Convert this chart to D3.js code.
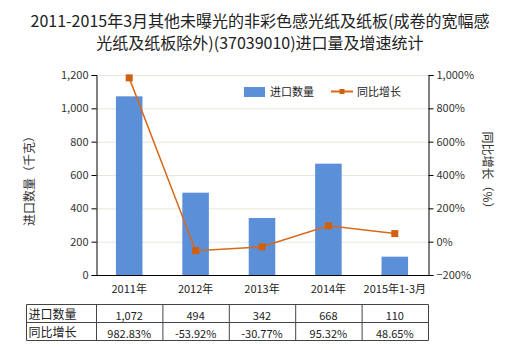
<!DOCTYPE html>
<html><head><meta charset="utf-8">
<script src="https://cdn.jsdelivr.net/npm/d3@7"></script>
<style>body{margin:0;background:#fff}svg{display:block;font-family:"Noto Sans CJK SC","Microsoft YaHei",sans-serif}</style>
</head><body><svg id="c" width="520" height="350"></svg>
<script>
const categories = ["2011年","2012年","2013年","2014年","2015年1-3月"];
const importQty = [1072, 494, 342, 668, 110];
const growthPct = [982.83, -53.92, -30.77, 95.32, 48.65];
const qtyLabels = ["1,072","494","342","668","110"];
const growthLabels = ["982.83%","-53.92%","-30.77%","95.32%","48.65%"];
const leftTicks = [0,200,400,600,800,1000,1200];
const rightTicks = [-200,0,200,400,600,800,1000];

const svg = d3.select("#c");
const L = 96, R = 428, T = 75, B = 275;
const x = d3.scaleBand().domain(categories).range([L,R]).paddingInner(0.6).paddingOuter(0.3);
const y = d3.scaleLinear().domain([0,1200]).range([B,T]);
const y2 = d3.scaleLinear().domain([-200,1000]).range([B,T]);
const cx = d => x(d) + x.bandwidth()/2;

// title
svg.append("text").attr("x",260).attr("y",27).attr("text-anchor","middle").attr("font-size",16).attr("fill","#222")
  .text("2011-2015年3月其他未曝光的非彩色感光纸及纸板(成卷的宽幅感");
svg.append("text").attr("x",260).attr("y",49).attr("text-anchor","middle").attr("font-size",16).attr("fill","#222")
  .text("光纸及纸板除外)(37039010)进口量及增速统计");

// gridlines
svg.append("g").selectAll("line").data(leftTicks.slice(1)).join("line")
  .attr("x1",L).attr("x2",R).attr("y1",d=>y(d)+0.5).attr("y2",d=>y(d)+0.5)
  .attr("stroke","#e6e6dc").attr("stroke-width",1);

// bars
svg.append("g").selectAll("rect").data(importQty).join("rect")
  .attr("x",(d,i)=>x(categories[i])).attr("width",x.bandwidth())
  .attr("y",d=>y(d)).attr("height",d=>B-y(d)).attr("fill","#5b8fd8");

// axes
const la = svg.append("g").attr("transform",`translate(${L+0.5},0)`)
  .call(d3.axisLeft(y).tickValues(leftTicks).tickSize(5).tickPadding(3).tickFormat(d3.format(",")));
const ra = svg.append("g").attr("transform",`translate(${R+0.5},0)`)
  .call(d3.axisRight(y2).tickValues(rightTicks).tickSize(5).tickPadding(3).tickFormat(d=>d3.format(",")(d)+"%"));
[la,ra].forEach(a=>{
  a.select(".domain").attr("stroke","#000");
  a.selectAll(".tick line").attr("stroke","#000");
  a.selectAll("text").attr("font-size",11).attr("fill","#333").attr("font-family","'Noto Sans CJK SC',sans-serif");
});
svg.append("line").attr("x1",L).attr("x2",R+1).attr("y1",B+0.5).attr("y2",B+0.5).attr("stroke","#000");

// category labels
svg.append("g").selectAll("text").data(categories).join("text")
  .attr("x",d=>cx(d)).attr("y",293).attr("text-anchor","middle").attr("font-size",11).attr("fill","#222").text(d=>d);

// line
const line = d3.line().x((d,i)=>cx(categories[i])).y(d=>y2(d));
svg.append("path").datum(growthPct).attr("d",line).attr("fill","none").attr("stroke","#d9691a").attr("stroke-width",1.5);
svg.append("g").selectAll("rect").data(growthPct).join("rect")
  .attr("x",(d,i)=>cx(categories[i])-3.5).attr("y",d=>y2(d)-3.5).attr("width",7).attr("height",7).attr("fill","#d25f0c");

// axis titles
svg.append("text").attr("transform","translate(34,178) rotate(-90)").attr("text-anchor","middle")
  .attr("font-size",12).attr("fill","#333").text("进口数量（千克）");
svg.append("text").attr("transform","translate(483,173) rotate(90)").attr("text-anchor","middle")
  .attr("font-size",12).attr("fill","#333").text("同比增长（%）");

// legend
svg.append("rect").attr("x",244).attr("y",87).attr("width",21).attr("height",10).attr("fill","#5b8fd8");
svg.append("text").attr("x",270).attr("y",96).attr("font-size",11).attr("fill","#222").text("进口数量");
svg.append("line").attr("x1",331).attr("x2",353).attr("y1",91.5).attr("y2",91.5).attr("stroke","#d9691a").attr("stroke-width",2);
svg.append("rect").attr("x",339.5).attr("y",89).attr("width",5).attr("height",5).attr("fill","#d25f0c");
svg.append("text").attr("x",357).attr("y",96).attr("font-size",11).attr("fill","#222").text("同比增长");

// table
const tT = 304.5, tM = 322.5, tB = 340.5, tL = 26.5;
const tbl = svg.append("g");
const bounds = [tL, L+0.5].concat(categories.map((d,i)=>L+0.5+x.step()*(i+1)));
tbl.selectAll("line.h").data([tT,tM,tB]).join("line").attr("x1",tL).attr("x2",R+0.5).attr("y1",d=>d).attr("y2",d=>d).attr("stroke","#444");
tbl.selectAll("line.v").data(bounds).join("line").attr("x1",d=>d).attr("x2",d=>d).attr("y1",tT).attr("y2",tB).attr("stroke","#444");
const rows = [["进口数量",qtyLabels],["同比增长",growthLabels]];
rows.forEach((r,ri)=>{
  const yy = [tT,tM][ri] + 14;
  tbl.append("text").attr("x",tL+2).attr("y",yy).attr("font-size",12).attr("fill","#222").text(r[0]);
  tbl.selectAll(null).data(r[1]).join("text").attr("x",(d,i)=>cx(categories[i])).attr("y",yy+1)
    .attr("text-anchor","middle").attr("font-size",11).attr("fill","#222").text(d=>d);
});
</script></body></html>
